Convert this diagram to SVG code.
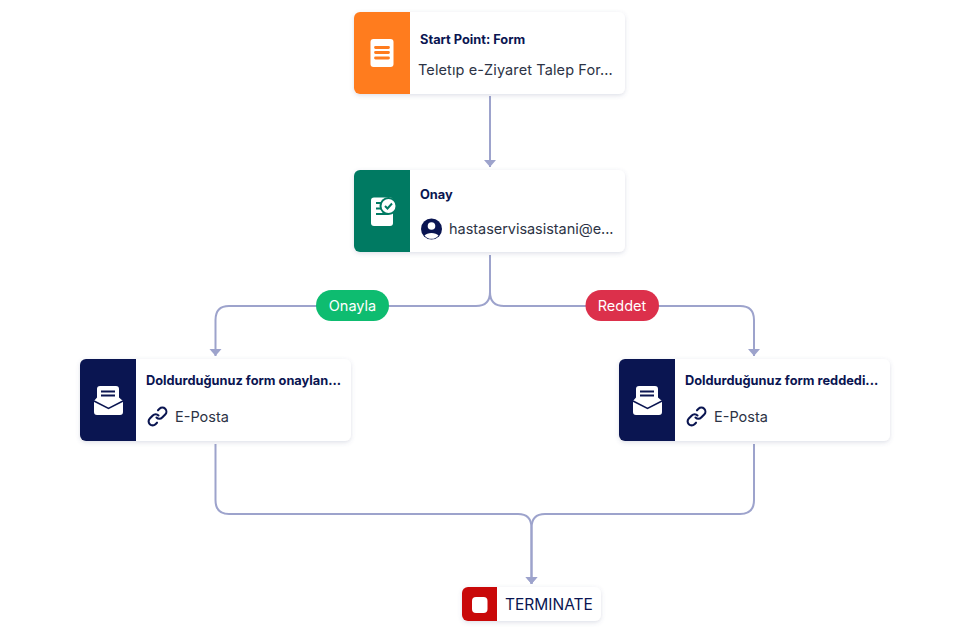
<svg xmlns="http://www.w3.org/2000/svg" width="968" height="633" viewBox="0 0 968 633">
<style>
text{font-family:"Inter","Noto Sans","Liberation Sans",sans-serif}
.card{fill:#fff;filter:url(#sh)}
.t{font-size:12.800px;font-weight:700;fill:#0a1551}
.s{font-size:14.500px;fill:#2c3345}
.c{fill:none;stroke:#9da3cc;stroke-width:2}
.lab{font-size:14.500px;fill:#fff;text-anchor:middle}
.i{fill:#fff}
</style>
<defs>
<filter id="sh" x="-10%" y="-20%" width="120%" height="150%"><feDropShadow dx="0" dy="1.500" stdDeviation="2" flood-color="#545f8c" flood-opacity="0.2"/></filter>
<marker id="ah" markerUnits="userSpaceOnUse" markerWidth="8" markerHeight="14" refX="7" refY="7" orient="auto" viewBox="0 0 8 14"><path d="M0 1L7 7L0 13Z" fill="#9da3cc"/></marker>
<g id="mail"><path class="i" d="M17 15.500V7a3 3 0 0 1 3-3h16a3 3 0 0 1 3 3V15.500L43 19V30a3 3 0 0 1-3 3H17a3 3 0 0 1-3-3V19Z"/><path d="M21 9.500H35M21 13.500H35" stroke="#0a1551" stroke-width="2.200" fill="none"/><path d="M14 19L28.500 26.500L43 19" stroke="#0a1551" stroke-width="1.500" fill="none"/></g>
<g id="link"><path d="M8.500 10.500a4 4 0 0 0 5.700 0l3-3a4 4 0 0 0-5.700-5.700l-1.500 1.500M10.500 8.500a4 4 0 0 0-5.700 0l-3 3a4 4 0 0 0 5.700 5.700l1.500-1.500" fill="none" stroke="#0a1551" stroke-width="2.100" stroke-linecap="round"/></g>
</defs>
<rect width="968" height="633" fill="#fff"/>
<g id="connectors">
<path class="c" d="M490 96V167" marker-end="url(#ah)"/>
<path class="c" d="M490 255V292Q490 306 476 306H229Q215.500 306 215.500 320V356" marker-end="url(#ah)"/>
<path class="c" d="M490 255V292Q490 306 504 306H740Q754 306 754 320V356" marker-end="url(#ah)"/>
<path class="c" d="M215.500 444V500Q215.500 514 229 514H518Q531.500 514 531.500 528V584" marker-end="url(#ah)"/>
<path class="c" d="M754 444V500Q754 514 740 514H545Q531.500 514 531.500 528V584" marker-end="url(#ah)"/>
</g>
<g id="label-onayla"><rect x="316" y="290" width="73" height="31" rx="15.500" fill="#0ebc70"/><text class="lab" x="352.500" y="311">Onayla</text></g>
<g id="label-reddet"><rect x="585.500" y="290" width="73.500" height="31" rx="15.500" fill="#dc304b"/><text class="lab" x="622" y="311">Reddet</text></g>
<g id="node-start">
<rect class="card" x="354" y="12" width="271" height="82" rx="6"/>
<path d="M410 12H360a6 6 0 0 0-6 6V88a6 6 0 0 0 6 6H410Z" fill="#ff7c1e"/>
<rect class="i" x="370.500" y="39" width="23" height="28" rx="3"/>
<path d="M375.500 47.500H388.500M375.500 52.500H388.500M375.500 58H388.500" stroke="#ff7c1e" stroke-width="2.800" stroke-linecap="round"/>
<text class="t" x="420" y="44">Start Point: Form</text>
<text class="s" x="418" y="75" letter-spacing="0.110">Teletıp e-Ziyaret Talep For...</text>
</g>
<g id="node-onay">
<rect class="card" x="354" y="170" width="271" height="82" rx="6"/>
<path d="M410 170H360a6 6 0 0 0-6 6V246a6 6 0 0 0 6 6H410Z" fill="#007a62"/>
<path class="i" d="M374 197.500H390a3 3 0 0 1 3 3V223a3 3 0 0 1-3 3H374a3 3 0 0 1-3-3V200.500a3 3 0 0 1 3-3Z"/>
<path d="M376 203H382M376 208.500H381M376 214H388" stroke="#007a62" stroke-width="2" fill="none"/>
<circle cx="388.500" cy="206" r="9" fill="#007a62"/>
<circle class="i" cx="388.500" cy="206" r="7"/>
<path d="M385 206L387.500 208.500L392 203.500" fill="none" stroke="#007a62" stroke-width="2"/>
<text class="t" x="420" y="199">Onay</text>
<circle cx="431.500" cy="229" r="10.500" fill="#0a1551"/>
<circle class="i" cx="431.500" cy="226" r="3.800"/>
<path class="i" d="M424.500 235.500a8 5 0 0 1 14 0a9 9 0 0 1-14 0Z"/>
<text class="s" x="449" y="234" letter-spacing="-0.040">hastaservisasistani@e...</text>
</g>
<g id="node-onaylandi">
<rect class="card" x="80" y="359" width="271" height="82" rx="6"/>
<path d="M136 359H86a6 6 0 0 0-6 6V435a6 6 0 0 0 6 6H136Z" fill="#0a1551"/>
<use href="#mail" x="80" y="382"/>
<text class="t" x="146" y="385">Doldurduğunuz form onaylan...</text>
<use href="#link" x="148" y="407"/>
<text class="s" x="175" y="422">E-Posta</text>
</g>
<g id="node-reddedildi">
<rect class="card" x="619" y="359" width="271" height="82" rx="6"/>
<path d="M675 359H625a6 6 0 0 0-6 6V435a6 6 0 0 0 6 6H675Z" fill="#0a1551"/>
<use href="#mail" x="619" y="382"/>
<text class="t" x="685" y="385">Doldurduğunuz form reddedi...</text>
<use href="#link" x="687" y="407"/>
<text class="s" x="714" y="422">E-Posta</text>
</g>
<g id="node-terminate">
<rect class="card" x="462" y="587" width="139" height="34" rx="6"/>
<path d="M497 587H468a6 6 0 0 0-6 6V615a6 6 0 0 0 6 6H497Z" fill="#c90909"/>
<rect class="i" x="472" y="597" width="15.500" height="16" rx="4"/>
<text x="505" y="610" font-size="15.500" fill="#0a1551">TERMINATE</text>
</g>
</svg>
